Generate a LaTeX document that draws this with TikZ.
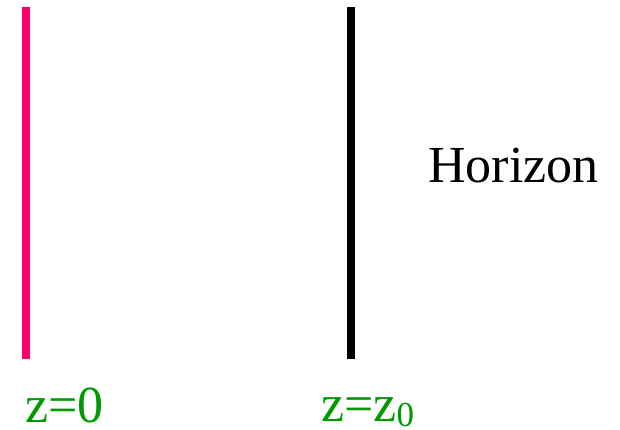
\documentclass[tikz,border=0pt]{standalone}
\usepackage{fontspec}
\setmainfont{Liberation Serif}
\definecolor{wallpink}{RGB}{255,0,102}
\definecolor{labelgreen}{RGB}{0,153,0}
\begin{document}
\begin{tikzpicture}[x=1pt,y=1pt,
  wall/.style={line width=8pt},
  lbl/.style={inner sep=0pt,anchor=base west,font=\fontsize{52}{60}\selectfont}]
\useasboundingbox (0,0) rectangle (620,429);
\coordinate (pt) at (26,422);
\coordinate (pb) at (26,70);
\coordinate (bt) at (351,422);
\coordinate (bb) at (351,70);
\draw[wall,wallpink] (pt) -- (pb);
\draw[wall,black] (bt) -- (bb);
\node[lbl] (hor) at (428,247) {Horizon};
\node[lbl,text=labelgreen] (z0) at (25,7) {z=0};
\node[lbl,text=labelgreen] (zz0) at (321,8) {z=z\raisebox{-5pt}{\fontsize{35}{40}\selectfont 0}};
\end{tikzpicture}
\end{document}
